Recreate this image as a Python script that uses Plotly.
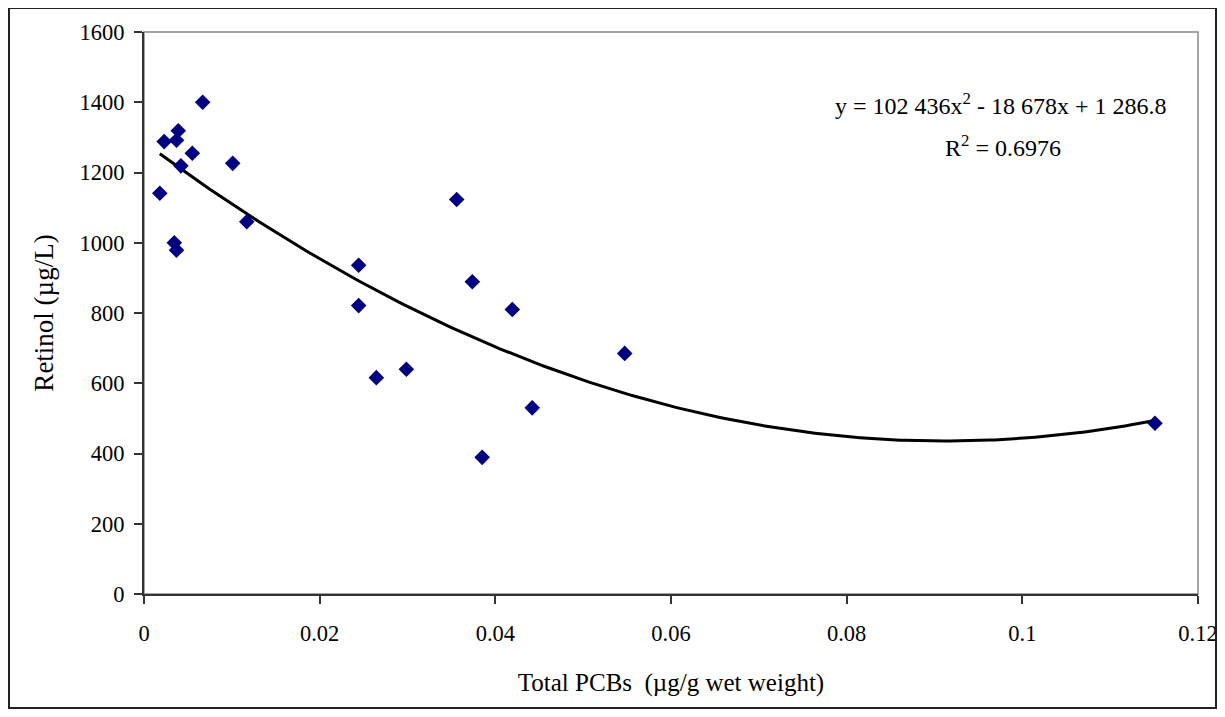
import numpy as np
import plotly.graph_objects as go

# Data
pcb = [0.0018, 0.0023, 0.0037, 0.0039, 0.0055, 0.0042, 0.00668, 0.0101, 0.0117,
       0.00345, 0.0037, 0.0356, 0.02444, 0.03738, 0.02444, 0.04193, 0.05473,
       0.02987, 0.02645, 0.0442, 0.0385, 0.1151]
retinol = [1141, 1288, 1292, 1319, 1255, 1219, 1400, 1226, 1060,
           1000, 979, 1123, 936, 889, 821, 810, 685,
           640, 616, 530, 389, 486]

# Trendline coefficients shown on the chart (a, b, c)
trend_coef = [102436, -18678, 1286.8]

x_ticks = [0, 0.02, 0.04, 0.06, 0.08, 0.1, 0.12]
x_ticktext = ["0", "0.02", "0.04", "0.06", "0.08", "0.1", "0.12"]
y_ticks = [0, 200, 400, 600, 800, 1000, 1200, 1400, 1600]

xt = np.linspace(min(pcb), max(pcb), 200)
yt = np.polyval(trend_coef, xt)

FONT = "Liberation Serif, Times New Roman, serif"
fig = go.Figure()
fig.add_trace(go.Scatter(x=xt, y=yt, mode="lines",
                         line=dict(color="black", width=3), hoverinfo="skip"))
fig.add_trace(go.Scatter(x=pcb, y=retinol, mode="markers",
                         marker=dict(symbol="diamond", color="#000080", size=12,
                                     line=dict(width=0))))

# page is rendered with an 8px body margin; keep the figure inside the window
W, H = 1209, 701
L, T = 136, 24
pw, ph = 1054, 562
R = W - L - pw
B = H - T - ph

def px2paper(x, y):
    # x, y in figure pixel coords
    return (x - L) / pw, (T + ph - y) / ph

fx0, fy0 = px2paper(1, 0)
fx1, fy1 = px2paper(1208, 700)

fig.update_layout(
    width=W, height=H,
    margin=dict(l=L, r=R, t=T, b=B),
    plot_bgcolor="white", paper_bgcolor="white",
    showlegend=False,
    font=dict(family=FONT, size=22.5, color="black"),
    xaxis=dict(range=[0, 0.12], tickvals=x_ticks, ticktext=x_ticktext,
               showgrid=False, zeroline=False, showline=True, linecolor="#333333",
               linewidth=2, ticks="outside", ticklen=8, tickcolor="#333333",
               tickwidth=1.5, ticklabelstandoff=10, ticklabeloverflow="allow",
               automargin=False,
               title=dict(text="Total PCBs\u00a0 (µg/g wet weight)", standoff=28,
                          font=dict(family=FONT, size=25))),
    yaxis=dict(range=[0, 1600], tickvals=y_ticks,
               showgrid=False, zeroline=False, showline=True, linecolor="#333333",
               linewidth=2, ticks="outside", ticklen=8, tickcolor="#333333",
               tickwidth=1.5, ticklabelstandoff=5, automargin=False,
               title=dict(text="Retinol (µg/L)", standoff=18,
                          font=dict(family=FONT, size=27))),
    shapes=[
        dict(type="rect", xref="paper", yref="paper", x0=0, y0=0, x1=1, y1=1,
             line=dict(color="#888888", width=1.5), layer="below"),
        dict(type="rect", xref="paper", yref="paper", x0=fx0, y0=fy0, x1=fx1, y1=fy1,
             line=dict(color="#222222", width=2)),
    ],
    annotations=[
        dict(text="y = 102 436x<sup>2</sup> - 18 678x + 1 286.8", x=0.0975, y=1394,
             xref="x", yref="y", showarrow=False, xanchor="center",
             font=dict(family=FONT, size=24)),
        dict(text="R<sup>2</sup> = 0.6976", x=0.0978, y=1275,
             xref="x", yref="y", showarrow=False, xanchor="center",
             font=dict(family=FONT, size=24)),
    ],
)

fig.write_html("out.html")
